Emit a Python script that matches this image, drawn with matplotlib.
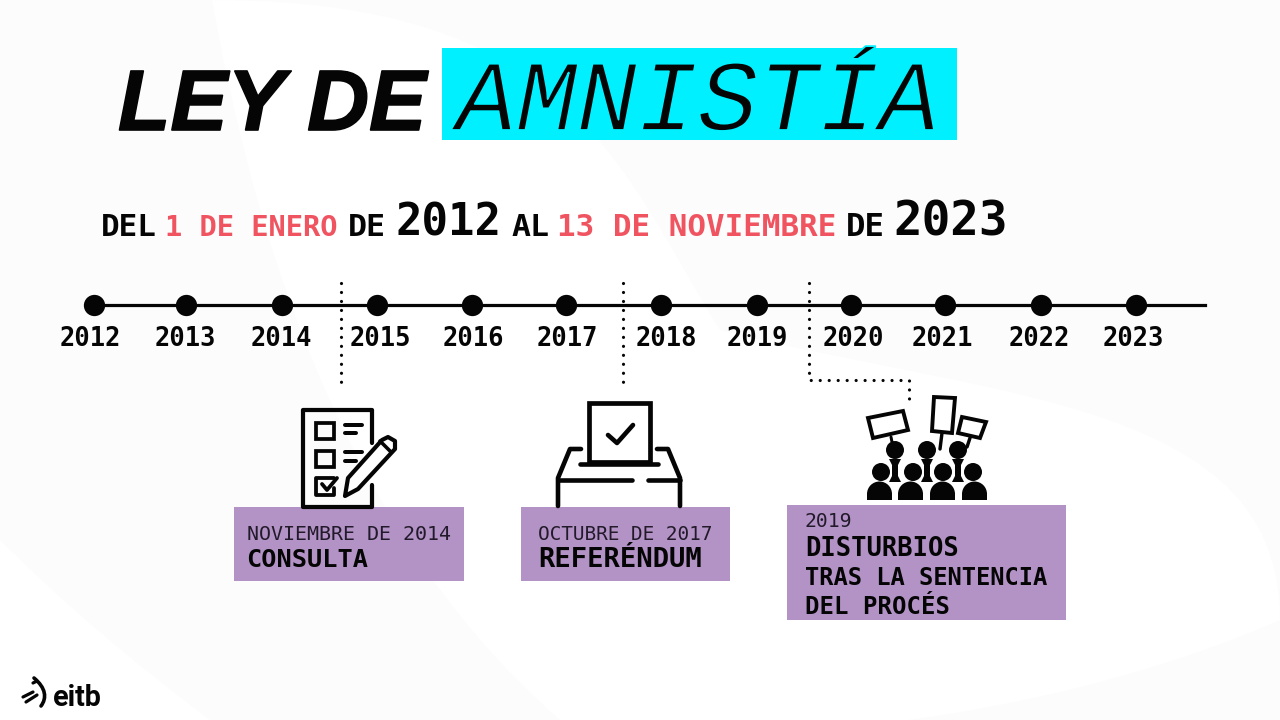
import matplotlib
matplotlib.use("Agg")
import matplotlib.pyplot as plt
import matplotlib.patheffects as pe
from matplotlib.patches import Rectangle, Polygon, Circle, PathPatch, Wedge
from matplotlib.path import Path

# data
years = [2012, 2013, 2014, 2015, 2016, 2017, 2018, 2019, 2020, 2021, 2022, 2023]
event_years = [2014.61, 2017.59, 2019.55]
event_dates = ["NOVIEMBRE DE 2014", "OCTUBRE DE 2017", "2019"]
event_names = ["CONSULTA", "REFERÉNDUM", "DISTURBIOS\nTRAS LA SENTENCIA\nDEL PROCÉS"]

BLACK = "#050505"
RED = "#ef5460"
CYAN = "#00f0ff"
PURPLE = "#b393c6"
MONO = "DejaVu Sans Mono"

fig = plt.figure(figsize=(12.8, 7.2), dpi=100, facecolor="#fdfdfd")
ax = fig.add_axes([0, 0, 1, 1])
ax.set_xlim(0, 1280)
ax.set_ylim(720, 0)
ax.axis("off")

# timeline axes share the figure, x is in years
PX_2012, PX_YEAR = 94, 94.7
tl = fig.add_axes([0, 0, 1, 1], sharey=ax)
tl.set_xlim(2012 - PX_2012 / PX_YEAR, 2012 + (1280 - PX_2012) / PX_YEAR)
tl.axis("off")
tl.patch.set_alpha(0)


def fit(txt, x0, x1, y, color=BLACK, family=MONO, weight="bold", style="normal", axes=ax):
    # size the text so it spans x0..x1, y is the baseline
    t = axes.text(x0, y, txt, color=color, family=family, weight=weight, style=style,
                  fontsize=20, ha="left", va="baseline", zorder=6)
    r = fig.canvas.get_renderer()
    w = t.get_window_extent(r).width
    t.set_fontsize(20 * (x1 - x0) / w)
    return t


def stroke(pts, lw=3.6, color=BLACK, z=5):
    xs = [p[0] for p in pts]
    ys = [p[1] for p in pts]
    ax.plot(xs, ys, color=color, lw=lw * 0.72, solid_capstyle="round",
            solid_joinstyle="round", zorder=z)


# background swooshes
def blob(verts, color):
    codes = [Path.MOVETO] + [Path.CURVE4] * (len(verts) - 2) + [Path.CLOSEPOLY]
    ax.add_patch(PathPatch(Path(verts, codes), fc=color, ec="none", zorder=0))


ax.add_patch(Rectangle((0, 0), 1280, 720, fc="#fcfcfc", ec="none", zorder=0))
blob([(212, 0), (250, 210), (330, 520), (560, 720), (800, 760), (1100, 700), (1280, 620),
      (1280, 400), (1000, 400), (720, 330), (620, 170), (575, 0), (212, 0)], "#ffffff")
blob([(0, 540), (60, 600), (130, 660), (210, 720), (100, 720), (50, 720), (0, 720),
      (0, 540)], "#ffffff")

# title
ax.add_patch(Rectangle((442, 48), 515, 92, fc=CYAN, ec="none", zorder=1))
ley = fit("LEY DE", 118, 426, 130, family="Liberation Sans", weight="bold", style="italic")
ley.set_path_effects([pe.withStroke(linewidth=1.2, foreground=BLACK)])
amn = fit("AMNISTÍA", 456, 938, 130, family="Liberation Mono", weight="normal", style="italic")
# cyan stroke on top thins the letters down
amn.set_path_effects([pe.Normal(), pe.Stroke(linewidth=1.3, foreground=CYAN)])

# subtitle
fit("DEL", 101, 157, 236)
fit("1 DE ENERO", 165, 338, 236, color=RED)
fit("DE", 348, 386, 236)
fit("2012", 395, 501, 236)
fit("AL", 511, 549, 236)
fit("13 DE NOVIEMBRE", 557, 836, 236, color=RED)
fit("DE", 846, 885, 236)
fit("2023", 893, 1008, 236)

# timeline
dot_shift = [0, -3, -1, -1, -1, -2, -1, 0, -1, -1, 0, 0]
dot_x = [yr + sh / PX_YEAR for yr, sh in zip(years, dot_shift)]
line_end = 2012 + (1205 - PX_2012) / PX_YEAR
tl.plot([years[0], line_end], [305, 305], color=BLACK, lw=2.3, zorder=3)
tl.scatter(dot_x, [305] * len(years), s=235, color=BLACK, zorder=4, linewidths=0)
label_shift = [-4, 0, -1, 3, 2, 2, 5, 0, 3, -3, -2, -2]
for x, yr, sh in zip(dot_x, years, label_shift):
    tl.text(x + sh / PX_YEAR, 346, str(yr), family=MONO, weight="bold", fontsize=18.4,
            color=BLACK, ha="center", va="baseline", zorder=6)

# dotted leaders
dot = dict(color=BLACK, lw=2.3, linestyle=(0, (0.01, 2.8)), dash_capstyle="round", zorder=5)
tl.plot([event_years[0]] * 2, [283, 384], **dot)
tl.plot([event_years[1]] * 2, [283, 384], **dot)
end_x = 2012 + (909 - PX_2012) / PX_YEAR
tl.plot([event_years[2], event_years[2], end_x, end_x], [283, 380, 380, 400], **dot)

# purple boxes and their text
ax.add_patch(Rectangle((234, 507), 230, 74, fc=PURPLE, ec="none", zorder=2))
ax.add_patch(Rectangle((521, 507), 209, 74, fc=PURPLE, ec="none", zorder=2))
ax.add_patch(Rectangle((787, 505), 279, 115, fc=PURPLE, ec="none", zorder=2))
fit(event_dates[0], 247, 452, 540, color="#221a2a", weight="normal")
fit(event_names[0], 246, 368, 567)
fit(event_dates[1], 538, 713, 540, color="#221a2a", weight="normal")
fit(event_names[1], 538, 702, 567)
ax.text(805, 527, event_dates[2], family=MONO, fontsize=14.2, color="#221a2a", va="baseline", zorder=6)
dist_lines = event_names[2].split("\n")
fit(dist_lines[0], 805, 959, 556)
fit(dist_lines[1], 805, 1048, 585)
fit(dist_lines[2], 805, 950, 614)

# checklist icon
stroke([(372, 443), (372, 410), (303, 410), (303, 507), (372, 507), (372, 485)], lw=4.2)
for y0, y1 in [(423, 439), (451, 467)]:
    ax.add_patch(Rectangle((316, y0), 18, y1 - y0, fc="none", ec=BLACK, lw=2.7, zorder=5))
stroke([(334, 478), (316, 478), (316, 495), (334, 495), (334, 488)], lw=3.8)
stroke([(345, 425), (362, 425)], lw=4)
stroke([(345, 433), (356, 433)], lw=4)
stroke([(345, 452), (362, 452)], lw=4)
stroke([(345, 461), (356, 461)], lw=4)
stroke([(322, 484), (327, 490), (337, 478)], lw=3.8)
ax.add_patch(Polygon([(345, 496), (348, 478), (382, 440), (388, 437), (395, 441), (395, 449),
                      (358, 489)], closed=True, fc="#ffffff", ec=BLACK, lw=3,
                     joinstyle="round", zorder=5.5))
stroke([(380, 441), (391, 452)], lw=3.6, z=5.6)

# ballot box icon
ax.add_patch(Rectangle((589, 403), 61, 59, fc="#ffffff", ec=BLACK, lw=3.4, zorder=5))
stroke([(580, 464), (658, 464)], lw=4.6)
stroke([(608, 435), (617, 443), (633, 425)], lw=4.6)
stroke([(581, 449), (570, 449), (558, 478), (558, 506)], lw=4.6)
stroke([(657, 449), (668, 449), (680, 478), (680, 506)], lw=4.6)
stroke([(558, 480), (632, 480)], lw=4.6)
stroke([(648, 480), (680, 480)], lw=4.6)

# crowd icon
for x in [867, 898, 930, 962]:
    ax.add_patch(Wedge((x + 12.5, 494), 12.5, 180, 360, fc=BLACK, ec="none", zorder=5))
    ax.add_patch(Rectangle((x, 494), 25, 6, fc=BLACK, ec="none", zorder=5))
for x in [881, 913, 943, 973]:
    ax.add_patch(Circle((x, 472), 9, fc=BLACK, ec="none", zorder=5))
for x in [895, 927, 958]:
    ax.add_patch(Circle((x, 450), 9, fc=BLACK, ec="none", zorder=5))
    ax.add_patch(Polygon([(x - 6, 459), (x + 6, 459), (x + 3, 465), (x + 3, 476), (x + 6, 482),
                          (x - 6, 482), (x - 3, 476), (x - 3, 465)], closed=True,
                         fc=BLACK, ec="none", zorder=5))
for sign in ([(868, 418), (903, 411), (908, 430), (873, 438)],
             [(934, 397), (955, 398), (952, 433), (932, 431)],
             [(962, 417), (986, 422), (980, 438), (958, 433)]):
    ax.add_patch(Polygon(sign, closed=True, fc="#ffffff", ec=BLACK, lw=2.8, zorder=5))
stroke([(891, 437), (892, 442)], lw=3)
stroke([(942, 433), (940, 449)], lw=3.4)
stroke([(970, 438), (967, 447)], lw=3.4)

# eitb logo
fit("eitb", 53, 102, 706, family="Roboto", weight="bold")
arc = Path([(34, 678), (46, 688), (47, 698), (41, 706)], [Path.MOVETO] + [Path.CURVE4] * 3)
ax.add_patch(PathPatch(arc, fc="none", ec=BLACK, lw=2.6, capstyle="round", zorder=6))
stroke([(23, 697), (33, 692)], lw=3.2)
stroke([(26, 702), (37, 695)], lw=3.2)
stroke([(33, 683), (37, 681)], lw=3.2)

fig.savefig("out.png", dpi=100, facecolor=fig.get_facecolor())
